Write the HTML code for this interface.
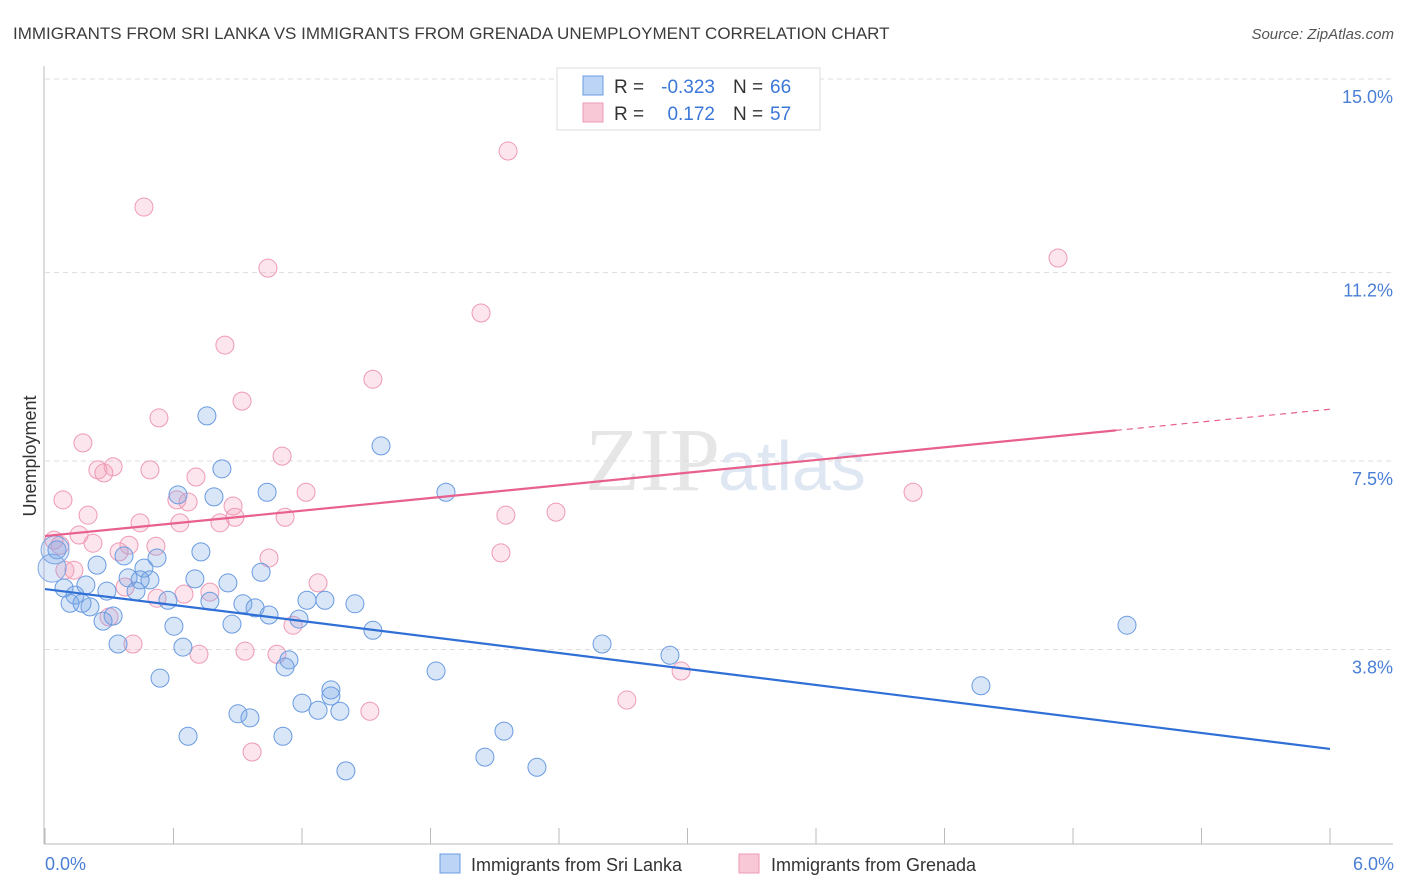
<!DOCTYPE html>
<html><head><meta charset="utf-8"><style>
body{margin:0;background:#fff;font-family:"Liberation Sans",sans-serif;}
#wrap{position:relative;width:1406px;height:892px;overflow:hidden;}
</style></head><body>
<div id="wrap">
<svg id="chart" width="1406" height="892" xmlns="http://www.w3.org/2000/svg">
<text x="13" y="39" font-size="17" fill="#3c3c3c">IMMIGRANTS FROM SRI LANKA VS IMMIGRANTS FROM GRENADA UNEMPLOYMENT CORRELATION CHART</text>
<text x="1394" y="39" font-size="15" fill="#555" text-anchor="end" font-style="italic">Source: ZipAtlas.com</text>
<text x="720" y="490" font-size="90" fill="#e6e6e6" text-anchor="end" font-family="Liberation Serif,serif">ZIP</text>
<text x="718" y="490" font-size="70" fill="#dfe7f3">atlas</text>
<g id="grid"></g><g id="axes"></g><g id="pts"></g><g id="lines"></g>
<text x="36" y="456" font-size="18" fill="#333" text-anchor="middle" transform="rotate(-90 36 456)">Unemployment</text>
<text x="45" y="870" font-size="18" fill="#4a7fd6">0.0%</text>
<text x="1394" y="870" font-size="18" fill="#4a7fd6" text-anchor="end">6.0%</text>
<g>
<rect x="557" y="68" width="263" height="62" fill="#fff" stroke="#ddd"/>
<rect x="583" y="76" width="20" height="19" fill="#bcd4f5" stroke="#6a9be0"/>
<rect x="583" y="103" width="20" height="19" fill="#f9c8d7" stroke="#ec9ab5"/>
<text x="614" y="93" font-size="19" fill="#333">R =</text>
<text x="715" y="93" font-size="19" fill="#3b78d8" text-anchor="end">-0.323</text>
<text x="733" y="93" font-size="19" fill="#333">N =</text>
<text x="770" y="93" font-size="19" fill="#3b78d8">66</text>
<text x="614" y="120" font-size="19" fill="#333">R =</text>
<text x="715" y="120" font-size="19" fill="#3b78d8" text-anchor="end">0.172</text>
<text x="733" y="120" font-size="19" fill="#333">N =</text>
<text x="770" y="120" font-size="19" fill="#3b78d8">57</text>
</g>
<g>
<rect x="440" y="854" width="20" height="19" fill="#bcd4f5" stroke="#6a9be0"/>
<text x="471" y="871" font-size="18" fill="#333">Immigrants from Sri Lanka</text>
<rect x="739" y="854" width="20" height="19" fill="#f9c8d7" stroke="#ec9ab5"/>
<text x="771" y="871" font-size="18" fill="#333">Immigrants from Grenada</text>
</g>
</svg></div>
<script>
const yTicks=[15.0,11.2,7.5,3.8];
const yTickLabels=["15.0%","11.2%","7.5%","3.8%"];
const blueX=[0.756,1.569,0.826,0.621,1.037,0.789,1.872,0.056,0.369,0.523,0.728,0.243,0.462,1.009,0.388,0.490,0.444,0.700,0.854,0.191,0.089,0.140,0.289,0.425,0.574,0.770,0.924,0.981,1.223,1.307,1.447,0.117,0.210,0.173,0.318,0.271,1.046,1.186,0.602,0.873,1.531,0.341,0.644,2.601,2.918,1.139,1.121,1.826,0.537,1.335,1.335,1.200,1.275,1.377,0.901,0.957,4.370,5.052,2.143,0.668,1.111,2.054,2.297,1.405];
const blueY=[8.74,8.15,7.70,7.19,7.24,7.15,7.24,6.11,5.99,5.95,6.07,5.81,5.75,5.67,5.56,5.52,5.52,5.54,5.46,5.42,5.36,5.22,5.30,5.30,5.12,5.10,5.05,4.97,5.12,5.12,5.05,5.06,4.99,5.06,4.81,4.71,4.83,4.75,4.61,4.65,4.53,4.26,4.20,4.26,4.04,3.95,3.81,3.73,3.59,3.36,3.24,3.10,2.96,2.94,2.89,2.81,3.44,4.63,2.55,2.45,2.45,2.04,1.84,1.77];
const blueBigX=[0.033,0.047];
const blueBigY=[5.75,6.11];
const pinkX=[2.162,0.462,1.041,2.036,0.840,1.531,0.920,0.532,0.177,0.247,0.318,0.275,0.490,0.705,1.107,0.084,0.616,0.668,0.878,1.219,0.201,0.444,0.630,0.817,0.887,1.121,2.152,2.386,4.053,0.159,0.224,0.042,0.070,0.392,0.518,0.346,1.046,2.129,0.093,0.135,0.374,0.523,0.649,0.770,1.275,0.299,1.158,0.411,0.719,0.934,1.083,0.967,1.517,2.717,2.970,4.730];
const pinkY=[13.94,12.84,11.64,10.76,10.13,9.46,9.03,8.70,8.21,7.68,7.74,7.62,7.68,7.54,7.95,7.09,7.09,7.05,6.97,7.24,6.79,6.64,6.64,6.64,6.75,6.75,6.79,6.85,7.24,6.40,6.24,6.30,6.20,6.20,6.18,6.07,5.95,6.05,5.71,5.71,5.38,5.16,5.24,5.28,5.46,4.79,4.63,4.26,4.06,4.12,4.06,2.14,2.94,3.16,3.73,11.84];
const blueTrend=[5.34,2.20];
const pinkTrend=[6.38,8.87];
const pinkSolidEnd=5.0;

const NS="http://www.w3.org/2000/svg";
const xS=v=>45+v*214.17;
const yS=v=>861-v*50.93;
function mk(tag,attrs,parent){const e=document.createElementNS(NS,tag);for(const k in attrs)e.setAttribute(k,attrs[k]);document.getElementById(parent).appendChild(e);return e;}
yTicks.forEach((t,i)=>{
  const g=mk('line',{x1:45,x2:1393,y1:yS(t)-18,y2:yS(t)-18,stroke:'#ddd','stroke-dasharray':'5,4'},'grid');
  
  
  const l=mk('text',{x:1393,y:yS(t)+6,'font-size':18,fill:'#4a7fd6','text-anchor':'end'},'grid');
  l.textContent=yTickLabels[i];
  
  
});
const ax=mk('line',{x1:44,x2:44,y1:66,y2:844,stroke:'#bbb'},'axes');


const bx=mk('line',{x1:44,x2:1393,y1:844,y2:844,stroke:'#bbb'},'axes');


for(let i=0;i<=10;i++){const t=mk('line',{x1:xS(i*0.6),x2:xS(i*0.6),y1:828,y2:844,stroke:'#bbb'},'axes');
  
  }
pinkX.forEach((x,i)=>{const c=mk('circle',{cx:xS(x),cy:yS(pinkY[i]),r:9,fill:'rgba(244,160,188,0.28)',stroke:'#ee9ab6','stroke-width':1},'pts');
  
  });
blueX.forEach((x,i)=>{const c=mk('circle',{cx:xS(x),cy:yS(blueY[i]),r:9,fill:'rgba(120,165,230,0.28)',stroke:'#6a9be0','stroke-width':1},'pts');
  
  });
blueBigX.forEach((x,i)=>{const c=mk('circle',{cx:xS(x),cy:yS(blueBigY[i]),r:14,fill:'rgba(120,165,230,0.25)',stroke:'#7aa6e4','stroke-width':1},'pts');
  
  });
const bl=mk('line',{x1:xS(0),y1:yS(blueTrend[0]),x2:xS(6),y2:yS(blueTrend[1]),stroke:'#2f6fd6','stroke-width':2.2},'lines');


const pm=pinkTrend[0]+(pinkTrend[1]-pinkTrend[0])*pinkSolidEnd/6;
const pl=mk('line',{x1:xS(0),y1:yS(pinkTrend[0]),x2:xS(pinkSolidEnd),y2:yS(pm),stroke:'#e8608c','stroke-width':2.2},'lines');


const pd=mk('line',{x1:xS(pinkSolidEnd),y1:yS(pm),x2:xS(6),y2:yS(pinkTrend[1]),stroke:'#e8608c','stroke-width':1.2,'stroke-dasharray':'6,5'},'lines');


</script>
</body></html>
